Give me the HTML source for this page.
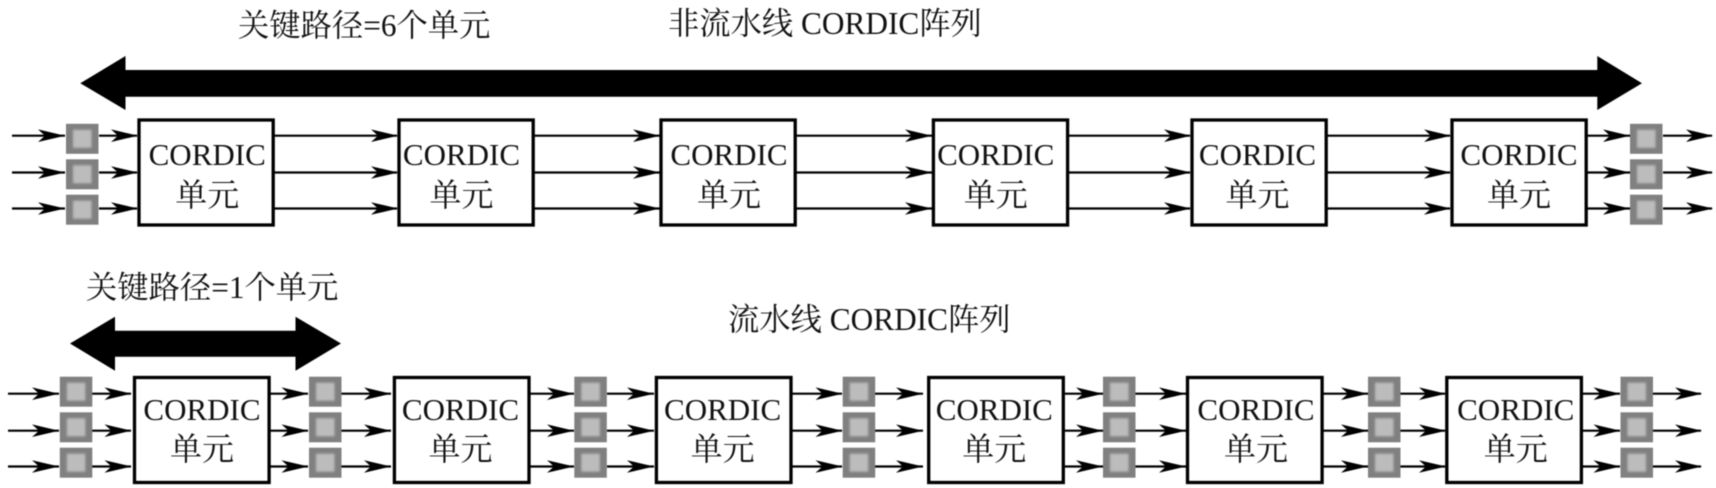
<!DOCTYPE html>
<html lang="zh">
<head>
<meta charset="utf-8">
<title>CORDIC</title>
<style>
html,body{margin:0;padding:0;background:#fff;width:1716px;height:488px;overflow:hidden}
svg{display:block;filter:blur(0.5px)}
text{font-family:"Liberation Serif","Noto Serif CJK SC",serif;font-size:31px;fill:#111}
.m{text-anchor:middle}
.t{font-size:31.3px}
.u{font-size:32px}
</style>
</head>
<body>
<svg width="1716" height="488" viewBox="0 0 1716 488" xmlns="http://www.w3.org/2000/svg">
<defs>
<filter id="b" x="-30%" y="-30%" width="160%" height="160%"><feGaussianBlur stdDeviation="1"/></filter>
<path id="a" d="M0,0 L-27,-6.3 L-20,0 L-27,6.3Z" fill="#000"/>
<g id="ht"><use href="#a" y="135.7"/><use href="#a" y="172.5"/><use href="#a" y="208.5"/></g>
<g id="hb"><use href="#a" y="393.7"/><use href="#a" y="430.7"/><use href="#a" y="466.5"/></g>
<g id="r"><rect width="32.5" height="30" fill="#808080"/><rect x="7" y="6" width="18.5" height="18" fill="#bcbcbc" filter="url(#b)"/></g>
<g id="rt"><use href="#r" y="123.8"/><use href="#r" y="159.3"/><use href="#r" y="194.7"/></g>
<g id="rb"><use href="#r" y="376.7"/><use href="#r" y="412.3"/><use href="#r" y="447.7"/></g>
</defs>
<rect width="1716" height="488" fill="#fff"/>

<!-- big arrows -->
<path d="M80.3,83.3 L125.5,56 V70 H1597.3 V56 L1642,83.3 L1597.3,110 V96.7 H125.5 V110Z" fill="#000"/>
<path d="M70,343.5 L115,316.7 V330.7 H295.5 V316.7 L341,343.5 L295.5,370.7 V356.7 H115 V370.7Z" fill="#000"/>

<!-- top connectors -->
<path fill="none" stroke="#000" stroke-width="2.2" d="
M12,135.7H65M12,172.5H65M12,208.5H65
M99,135.7H137M99,172.5H137M99,208.5H137
M274,135.7H397M274,172.5H397M274,208.5H397
M534,135.7H660M534,172.5H660M534,208.5H660
M796,135.7H932M796,172.5H932M796,208.5H932
M1069,135.7H1190M1069,172.5H1190M1069,208.5H1190
M1327,135.7H1450M1327,172.5H1450M1327,208.5H1450
M1587,135.7H1630M1587,172.5H1630M1587,208.5H1630
M1663,135.7H1712M1663,172.5H1712M1663,208.5H1712"/>
<use href="#ht" x="65"/><use href="#ht" x="138"/><use href="#ht" x="398"/><use href="#ht" x="660"/><use href="#ht" x="932"/><use href="#ht" x="1191"/><use href="#ht" x="1451"/><use href="#ht" x="1630"/><use href="#ht" x="1713"/>
<use href="#rt" x="66"/><use href="#rt" x="1630"/>

<!-- top boxes -->
<g fill="#fff" stroke="#000" stroke-width="3.3">
<rect x="139" y="120" width="134.2" height="105"/>
<rect x="399" y="120" width="134.2" height="105"/>
<rect x="661" y="120" width="134.2" height="105"/>
<rect x="933.4" y="120" width="134.2" height="105"/>
<rect x="1192" y="120" width="134.2" height="105"/>
<rect x="1452" y="120" width="134.2" height="105"/>
</g>
<text class="m" x="207.2" y="165">CORDIC</text><text class="m u" x="207.2" y="206">单元</text>
<text class="m" x="461.5" y="165">CORDIC</text><text class="m u" x="461.5" y="206">单元</text>
<text class="m" x="729" y="165">CORDIC</text><text class="m u" x="729" y="206">单元</text>
<text class="m" x="995.7" y="165">CORDIC</text><text class="m u" x="995.7" y="206">单元</text>
<text class="m" x="1257.5" y="165">CORDIC</text><text class="m u" x="1257.5" y="206">单元</text>
<text class="m" x="1519" y="165">CORDIC</text><text class="m u" x="1519" y="206">单元</text>

<!-- bottom connectors -->
<path fill="none" stroke="#000" stroke-width="2.2" d="
M8,393.7H59M8,430.7H59M8,466.5H59
M92,393.7H131M92,430.7H131M92,466.5H131
M270,393.7H308M270,430.7H308M270,466.5H308
M341,393.7H391M341,430.7H391M341,466.5H391
M530,393.7H574M530,430.7H574M530,466.5H574
M607,393.7H654M607,430.7H654M607,466.5H654
M792,393.7H842M792,430.7H842M792,466.5H842
M875,393.7H923M875,430.7H923M875,466.5H923
M1065,393.7H1103M1065,430.7H1103M1065,466.5H1103
M1135,393.7H1186M1135,430.7H1186M1135,466.5H1186
M1323,393.7H1368M1323,430.7H1368M1323,466.5H1368
M1400,393.7H1445M1400,430.7H1445M1400,466.5H1445
M1583,393.7H1620M1583,430.7H1620M1583,466.5H1620
M1653,393.7H1701M1653,430.7H1701M1653,466.5H1701"/>
<use href="#hb" x="59"/><use href="#hb" x="131.5"/><use href="#hb" x="308.5"/><use href="#hb" x="391"/><use href="#hb" x="574"/><use href="#hb" x="654"/><use href="#hb" x="842.5"/><use href="#hb" x="923"/><use href="#hb" x="1103"/><use href="#hb" x="1186"/><use href="#hb" x="1368"/><use href="#hb" x="1446"/><use href="#hb" x="1620.5"/><use href="#hb" x="1702"/>
<use href="#rb" x="59.8"/><use href="#rb" x="309"/><use href="#rb" x="574.3"/><use href="#rb" x="842.7"/><use href="#rb" x="1103"/><use href="#rb" x="1368"/><use href="#rb" x="1620.5"/>

<!-- bottom boxes -->
<g fill="#fff" stroke="#000" stroke-width="3.3">
<rect x="134.5" y="377.5" width="134.6" height="105"/>
<rect x="394.4" y="377.5" width="134.6" height="105"/>
<rect x="656.4" y="377.5" width="134.6" height="105"/>
<rect x="928.7" y="377.5" width="134.6" height="105"/>
<rect x="1187.5" y="377.5" width="134.6" height="105"/>
<rect x="1446.8" y="377.5" width="134.6" height="105"/>
</g>
<text class="m" x="202" y="420">CORDIC</text><text class="m u" x="202" y="460">单元</text>
<text class="m" x="460.5" y="420">CORDIC</text><text class="m u" x="460.5" y="460">单元</text>
<text class="m" x="722.6" y="420">CORDIC</text><text class="m u" x="722.6" y="460">单元</text>
<text class="m" x="994.3" y="420">CORDIC</text><text class="m u" x="994.3" y="460">单元</text>
<text class="m" x="1256" y="420">CORDIC</text><text class="m u" x="1256" y="460">单元</text>
<text class="m" x="1515.7" y="420">CORDIC</text><text class="m u" x="1515.7" y="460">单元</text>

<!-- titles -->
<text class="t" x="238" y="36">关键路径=6个单元</text>
<text class="t" x="668" y="34">非流水线 CORDIC阵列</text>
<text class="t" x="86" y="298">关键路径=1个单元</text>
<text class="t" x="728" y="330">流水线 CORDIC阵列</text>
</svg>
</body>
</html>
